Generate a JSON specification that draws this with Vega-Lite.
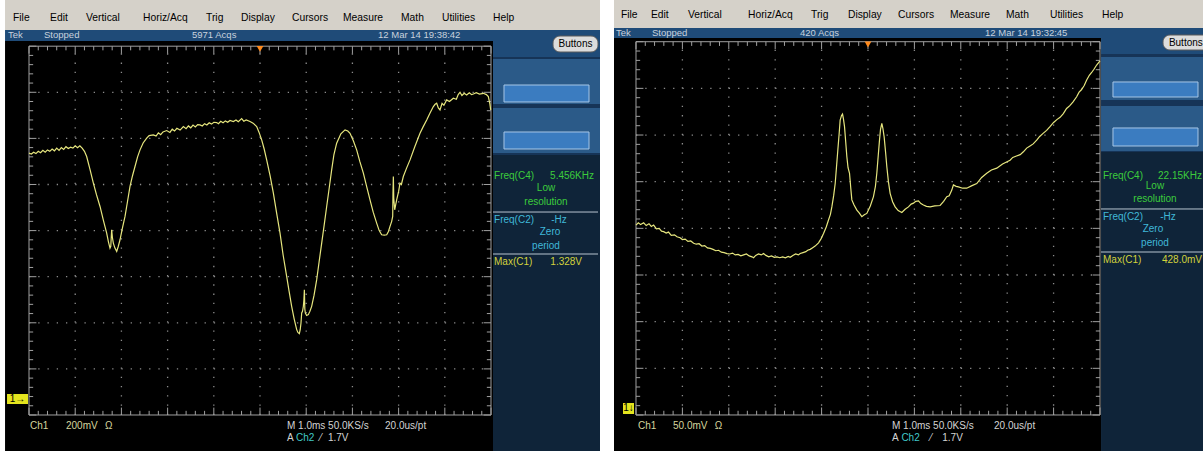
{
"$schema": "https://vega.github.io/schema/vega-lite/v6.json",
"background": "white",
"padding": 0,
"spacing": 14,
"bounds": "flush",
"config": {"view": {"stroke": null}},
"datasets": {
"gridV": [{"x":1,"y":0,"y2":8},{"x":2,"y":0,"y2":8},{"x":3,"y":0,"y2":8},{"x":4,"y":0,"y2":8},{"x":5,"y":0,"y2":8},{"x":6,"y":0,"y2":8},{"x":7,"y":0,"y2":8},{"x":8,"y":0,"y2":8},{"x":9,"y":0,"y2":8}],
"gridH": [{"y":1,"x":0,"x2":10},{"y":2,"x":0,"x2":10},{"y":3,"x":0,"x2":10},{"y":4,"x":0,"x2":10},{"y":5,"x":0,"x2":10},{"y":6,"x":0,"x2":10},{"y":7,"x":0,"x2":10}],
"frame": [{"x":0,"x2":10,"y":0,"y2":8}],
"tickV": [
{"x":0,"y":8,"y2":7.84},{"x":0.2,"y":8,"y2":7.91},{"x":0.4,"y":8,"y2":7.91},{"x":0.6,"y":8,"y2":7.91},{"x":0.8,"y":8,"y2":7.91},
{"x":1,"y":8,"y2":7.84},{"x":1.2,"y":8,"y2":7.91},{"x":1.4,"y":8,"y2":7.91},{"x":1.6,"y":8,"y2":7.91},{"x":1.8,"y":8,"y2":7.91},
{"x":2,"y":8,"y2":7.84},{"x":2.2,"y":8,"y2":7.91},{"x":2.4,"y":8,"y2":7.91},{"x":2.6,"y":8,"y2":7.91},{"x":2.8,"y":8,"y2":7.91},
{"x":3,"y":8,"y2":7.84},{"x":3.2,"y":8,"y2":7.91},{"x":3.4,"y":8,"y2":7.91},{"x":3.6,"y":8,"y2":7.91},{"x":3.8,"y":8,"y2":7.91},
{"x":4,"y":8,"y2":7.84},{"x":4.2,"y":8,"y2":7.91},{"x":4.4,"y":8,"y2":7.91},{"x":4.6,"y":8,"y2":7.91},{"x":4.8,"y":8,"y2":7.91},
{"x":5,"y":8,"y2":7.84},{"x":5.2,"y":8,"y2":7.91},{"x":5.4,"y":8,"y2":7.91},{"x":5.6,"y":8,"y2":7.91},{"x":5.8,"y":8,"y2":7.91},
{"x":6,"y":8,"y2":7.84},{"x":6.2,"y":8,"y2":7.91},{"x":6.4,"y":8,"y2":7.91},{"x":6.6,"y":8,"y2":7.91},{"x":6.8,"y":8,"y2":7.91},
{"x":7,"y":8,"y2":7.84},{"x":7.2,"y":8,"y2":7.91},{"x":7.4,"y":8,"y2":7.91},{"x":7.6,"y":8,"y2":7.91},{"x":7.8,"y":8,"y2":7.91},
{"x":8,"y":8,"y2":7.84},{"x":8.2,"y":8,"y2":7.91},{"x":8.4,"y":8,"y2":7.91},{"x":8.6,"y":8,"y2":7.91},{"x":8.8,"y":8,"y2":7.91},
{"x":9,"y":8,"y2":7.84},{"x":9.2,"y":8,"y2":7.91},{"x":9.4,"y":8,"y2":7.91},{"x":9.6,"y":8,"y2":7.91},{"x":9.8,"y":8,"y2":7.91},
{"x":10,"y":8,"y2":7.84},
{"x":0,"y":0,"y2":0.16},{"x":0.2,"y":0,"y2":0.09},{"x":0.4,"y":0,"y2":0.09},{"x":0.6,"y":0,"y2":0.09},{"x":0.8,"y":0,"y2":0.09},
{"x":1,"y":0,"y2":0.16},{"x":1.2,"y":0,"y2":0.09},{"x":1.4,"y":0,"y2":0.09},{"x":1.6,"y":0,"y2":0.09},{"x":1.8,"y":0,"y2":0.09},
{"x":2,"y":0,"y2":0.16},{"x":2.2,"y":0,"y2":0.09},{"x":2.4,"y":0,"y2":0.09},{"x":2.6,"y":0,"y2":0.09},{"x":2.8,"y":0,"y2":0.09},
{"x":3,"y":0,"y2":0.16},{"x":3.2,"y":0,"y2":0.09},{"x":3.4,"y":0,"y2":0.09},{"x":3.6,"y":0,"y2":0.09},{"x":3.8,"y":0,"y2":0.09},
{"x":4,"y":0,"y2":0.16},{"x":4.2,"y":0,"y2":0.09},{"x":4.4,"y":0,"y2":0.09},{"x":4.6,"y":0,"y2":0.09},{"x":4.8,"y":0,"y2":0.09},
{"x":5,"y":0,"y2":0.16},{"x":5.2,"y":0,"y2":0.09},{"x":5.4,"y":0,"y2":0.09},{"x":5.6,"y":0,"y2":0.09},{"x":5.8,"y":0,"y2":0.09},
{"x":6,"y":0,"y2":0.16},{"x":6.2,"y":0,"y2":0.09},{"x":6.4,"y":0,"y2":0.09},{"x":6.6,"y":0,"y2":0.09},{"x":6.8,"y":0,"y2":0.09},
{"x":7,"y":0,"y2":0.16},{"x":7.2,"y":0,"y2":0.09},{"x":7.4,"y":0,"y2":0.09},{"x":7.6,"y":0,"y2":0.09},{"x":7.8,"y":0,"y2":0.09},
{"x":8,"y":0,"y2":0.16},{"x":8.2,"y":0,"y2":0.09},{"x":8.4,"y":0,"y2":0.09},{"x":8.6,"y":0,"y2":0.09},{"x":8.8,"y":0,"y2":0.09},
{"x":9,"y":0,"y2":0.16},{"x":9.2,"y":0,"y2":0.09},{"x":9.4,"y":0,"y2":0.09},{"x":9.6,"y":0,"y2":0.09},{"x":9.8,"y":0,"y2":0.09},
{"x":10,"y":0,"y2":0.16}],
"tickH": [
{"y":0,"x":0,"x2":0.16},{"y":0.2,"x":0,"x2":0.09},{"y":0.4,"x":0,"x2":0.09},{"y":0.6,"x":0,"x2":0.09},{"y":0.8,"x":0,"x2":0.09},
{"y":1,"x":0,"x2":0.16},{"y":1.2,"x":0,"x2":0.09},{"y":1.4,"x":0,"x2":0.09},{"y":1.6,"x":0,"x2":0.09},{"y":1.8,"x":0,"x2":0.09},
{"y":2,"x":0,"x2":0.16},{"y":2.2,"x":0,"x2":0.09},{"y":2.4,"x":0,"x2":0.09},{"y":2.6,"x":0,"x2":0.09},{"y":2.8,"x":0,"x2":0.09},
{"y":3,"x":0,"x2":0.16},{"y":3.2,"x":0,"x2":0.09},{"y":3.4,"x":0,"x2":0.09},{"y":3.6,"x":0,"x2":0.09},{"y":3.8,"x":0,"x2":0.09},
{"y":4,"x":0,"x2":0.16},{"y":4.2,"x":0,"x2":0.09},{"y":4.4,"x":0,"x2":0.09},{"y":4.6,"x":0,"x2":0.09},{"y":4.8,"x":0,"x2":0.09},
{"y":5,"x":0,"x2":0.16},{"y":5.2,"x":0,"x2":0.09},{"y":5.4,"x":0,"x2":0.09},{"y":5.6,"x":0,"x2":0.09},{"y":5.8,"x":0,"x2":0.09},
{"y":6,"x":0,"x2":0.16},{"y":6.2,"x":0,"x2":0.09},{"y":6.4,"x":0,"x2":0.09},{"y":6.6,"x":0,"x2":0.09},{"y":6.8,"x":0,"x2":0.09},
{"y":7,"x":0,"x2":0.16},{"y":7.2,"x":0,"x2":0.09},{"y":7.4,"x":0,"x2":0.09},{"y":7.6,"x":0,"x2":0.09},{"y":7.8,"x":0,"x2":0.09},
{"y":8,"x":0,"x2":0.16},
{"y":0,"x":10,"x2":9.84},{"y":0.2,"x":10,"x2":9.91},{"y":0.4,"x":10,"x2":9.91},{"y":0.6,"x":10,"x2":9.91},{"y":0.8,"x":10,"x2":9.91},
{"y":1,"x":10,"x2":9.84},{"y":1.2,"x":10,"x2":9.91},{"y":1.4,"x":10,"x2":9.91},{"y":1.6,"x":10,"x2":9.91},{"y":1.8,"x":10,"x2":9.91},
{"y":2,"x":10,"x2":9.84},{"y":2.2,"x":10,"x2":9.91},{"y":2.4,"x":10,"x2":9.91},{"y":2.6,"x":10,"x2":9.91},{"y":2.8,"x":10,"x2":9.91},
{"y":3,"x":10,"x2":9.84},{"y":3.2,"x":10,"x2":9.91},{"y":3.4,"x":10,"x2":9.91},{"y":3.6,"x":10,"x2":9.91},{"y":3.8,"x":10,"x2":9.91},
{"y":4,"x":10,"x2":9.84},{"y":4.2,"x":10,"x2":9.91},{"y":4.4,"x":10,"x2":9.91},{"y":4.6,"x":10,"x2":9.91},{"y":4.8,"x":10,"x2":9.91},
{"y":5,"x":10,"x2":9.84},{"y":5.2,"x":10,"x2":9.91},{"y":5.4,"x":10,"x2":9.91},{"y":5.6,"x":10,"x2":9.91},{"y":5.8,"x":10,"x2":9.91},
{"y":6,"x":10,"x2":9.84},{"y":6.2,"x":10,"x2":9.91},{"y":6.4,"x":10,"x2":9.91},{"y":6.6,"x":10,"x2":9.91},{"y":6.8,"x":10,"x2":9.91},
{"y":7,"x":10,"x2":9.84},{"y":7.2,"x":10,"x2":9.91},{"y":7.4,"x":10,"x2":9.91},{"y":7.6,"x":10,"x2":9.91},{"y":7.8,"x":10,"x2":9.91},
{"y":8,"x":10,"x2":9.84}],
"trig": [{"x":5,"y":7.94}],
"L_rects": [
{"part":"menu","x":-0.519,"x2":12.359,"y":8.351,"y2":9.002},
{"part":"status","x":-0.519,"x2":12.359,"y":8.113,"y2":8.351},
{"part":"screen","x":-0.519,"x2":10.043,"y":-0.781,"y2":8.113},
{"part":"status","x":10.043,"x2":12.359,"y":7.766,"y2":8.113},
{"part":"sidemid","x":10.043,"x2":12.359,"y":5.64,"y2":7.766},
{"part":"box","x":10.043,"x2":12.359,"y":6.746,"y2":7.722},
{"part":"box","x":10.043,"x2":12.359,"y":5.683,"y2":6.659},
{"part":"sidelow","x":10.043,"x2":12.359,"y":-0.781,"y2":5.64}],
"L_inner": [{"x":10.281,"x2":12.121,"y":6.79,"y2":7.158},{"x":10.281,"x2":12.121,"y":5.77,"y2":6.139}],
"L_btn": [{"x":11.342,"x2":12.316,"y":7.874,"y2":8.221}],
"L_gnd": [{"x":-0.476,"x2":-0.022,"y":0.239,"y2":0.456}],
"L_sep": [{"x":10.043,"x2":12.316,"y":4.403},{"x":10.043,"x2":12.316,"y":3.492}],
"L_menu": [
{"label":"File","x":-0.346,"y":8.62},{"label":"Edit","x":0.455,"y":8.62},{"label":"Vertical","x":1.234,"y":8.62},{"label":"Horiz/Acq","x":2.468,"y":8.62},{"label":"Trig","x":3.831,"y":8.62},{"label":"Display","x":4.589,"y":8.62},{"label":"Cursors","x":5.693,"y":8.62},{"label":"Measure","x":6.797,"y":8.62},{"label":"Math","x":8.052,"y":8.62},{"label":"Utilities","x":8.939,"y":8.62},{"label":"Help","x":10.043,"y":8.62}],
"L_status": [
{"label":"Tek","x":-0.455,"y":8.232},
{"label":"Stopped","x":0.325,"y":8.232},
{"label":"5971 Acqs","x":3.528,"y":8.232},
{"label":"12 Mar 14 19:38:42","x":7.554,"y":8.232}],
"L_tl": [
{"label":"Freq(C4)","x":10.065,"y":5.184,"role":"green"},
{"label":"Freq(C2)","x":10.065,"y":4.23,"role":"cyan"},
{"label":"Max(C1)","x":10.065,"y":3.319,"role":"yellow"},
{"label":"Ch1","x":0.022,"y":-0.239,"role":"ch1"},
{"label":"200mV","x":0.8,"y":-0.239,"role":"ch1"},
{"label":"Ω","x":1.645,"y":-0.239,"role":"ch1"},
{"label":"M 1.0ms 50.0KS/s","x":5.584,"y":-0.239,"role":"grey"},
{"label":"20.0us/pt","x":7.706,"y":-0.239,"role":"grey"},
{"label":"A","x":5.584,"y":-0.499,"role":"grey"},
{"label":"Ch2","x":5.78,"y":-0.499,"role":"ch2"},
{"label":"⁄","x":6.3,"y":-0.499,"role":"grey"},
{"label":"1.7V","x":6.47,"y":-0.499,"role":"grey"}],
"L_tr": [
{"label":"5.456KHz","x":12.229,"y":5.184,"role":"green"},
{"label":"1.328V","x":11.97,"y":3.319,"role":"yellow"}],
"L_tc": [
{"label":"Low","x":11.19,"y":4.924,"role":"green"},
{"label":"resolution","x":11.19,"y":4.62,"role":"green"},
{"label":"-Hz","x":11.472,"y":4.23,"role":"cyan"},
{"label":"Zero","x":11.277,"y":3.97,"role":"cyan"},
{"label":"period","x":11.19,"y":3.666,"role":"cyan"},
{"label":"Buttons","x":11.829,"y":8.048,"role":"black"},
{"label":"1→","x":-0.249,"y":0.347,"role":"black"}],
"trace1": [
{"x":0,"y":5.68},{"x":0.05,"y":5.66},{"x":0.1,"y":5.7},{"x":0.15,"y":5.67},{"x":0.2,"y":5.72},{"x":0.25,"y":5.69},{"x":0.3,"y":5.74},{"x":0.35,"y":5.7},{"x":0.4,"y":5.75},{"x":0.45,"y":5.72},{"x":0.5,"y":5.77},{"x":0.55,"y":5.73},{"x":0.6,"y":5.79},{"x":0.65,"y":5.74},{"x":0.7,"y":5.8},{"x":0.75,"y":5.76},{"x":0.8,"y":5.82},{"x":0.85,"y":5.78},{"x":0.9,"y":5.81},{"x":0.95,"y":5.79},{"x":1.0,"y":5.84},{"x":1.05,"y":5.8},{"x":1.1,"y":5.84},{"x":1.15,"y":5.79},{"x":1.2,"y":5.72},{"x":1.248,"y":5.606},{"x":1.32,"y":5.33},{"x":1.393,"y":5.029},{"x":1.46,"y":4.78},{"x":1.537,"y":4.523},{"x":1.61,"y":4.22},{"x":1.681,"y":3.946},{"x":1.72,"y":3.75},{"x":1.753,"y":3.621},{"x":1.77,"y":3.66},{"x":1.789,"y":4.018},{"x":1.805,"y":3.85},{"x":1.825,"y":3.729},{"x":1.86,"y":3.62},{"x":1.898,"y":3.549},{"x":1.93,"y":3.65},{"x":1.97,"y":3.801},{"x":2.02,"y":4.05},{"x":2.078,"y":4.307},{"x":2.13,"y":4.62},{"x":2.186,"y":4.957},{"x":2.24,"y":5.19},{"x":2.294,"y":5.39},{"x":2.35,"y":5.6},{"x":2.403,"y":5.751},{"x":2.47,"y":5.9},{"x":2.547,"y":6.004},{"x":2.6,"y":6.06},{"x":2.691,"y":6.076},{"x":2.75,"y":6.05},{"x":2.8,"y":6.12},{"x":2.85,"y":6.08},{"x":2.9,"y":6.14},{"x":2.98,"y":6.17},{"x":3.05,"y":6.13},{"x":3.1,"y":6.2},{"x":3.15,"y":6.16},{"x":3.2,"y":6.22},{"x":3.27,"y":6.18},{"x":3.341,"y":6.256},{"x":3.4,"y":6.21},{"x":3.45,"y":6.27},{"x":3.5,"y":6.23},{"x":3.55,"y":6.29},{"x":3.6,"y":6.25},{"x":3.65,"y":6.3},{"x":3.701,"y":6.292},{"x":3.75,"y":6.27},{"x":3.8,"y":6.32},{"x":3.85,"y":6.29},{"x":3.9,"y":6.34},{"x":3.95,"y":6.31},{"x":4.0,"y":6.35},{"x":4.062,"y":6.343},{"x":4.1,"y":6.32},{"x":4.15,"y":6.37},{"x":4.2,"y":6.34},{"x":4.25,"y":6.38},{"x":4.3,"y":6.35},{"x":4.35,"y":6.39},{"x":4.423,"y":6.365},{"x":4.48,"y":6.4},{"x":4.53,"y":6.36},{"x":4.603,"y":6.43},{"x":4.65,"y":6.37},{"x":4.7,"y":6.4},{"x":4.784,"y":6.365},{"x":4.85,"y":6.33},{"x":4.928,"y":6.256},{"x":4.98,"y":6.13},{"x":5.036,"y":5.968},{"x":5.09,"y":5.77},{"x":5.144,"y":5.534},{"x":5.22,"y":5.18},{"x":5.289,"y":4.812},{"x":5.36,"y":4.38},{"x":5.433,"y":3.946},{"x":5.5,"y":3.47},{"x":5.577,"y":3.007},{"x":5.63,"y":2.68},{"x":5.685,"y":2.357},{"x":5.74,"y":2.08},{"x":5.794,"y":1.852},{"x":5.82,"y":1.79},{"x":5.851,"y":1.765},{"x":5.87,"y":1.85},{"x":5.887,"y":1.996},{"x":5.902,"y":2.213},{"x":5.92,"y":2.25},{"x":5.938,"y":2.357},{"x":5.95,"y":2.5},{"x":5.96,"y":2.718},{"x":5.97,"y":2.3},{"x":5.981,"y":2.213},{"x":6.01,"y":2.16},{"x":6.046,"y":2.177},{"x":6.08,"y":2.25},{"x":6.118,"y":2.357},{"x":6.17,"y":2.6},{"x":6.227,"y":2.935},{"x":6.28,"y":3.33},{"x":6.335,"y":3.729},{"x":6.39,"y":4.13},{"x":6.443,"y":4.523},{"x":6.5,"y":4.94},{"x":6.551,"y":5.318},{"x":6.6,"y":5.65},{"x":6.659,"y":5.895},{"x":6.75,"y":6.1},{"x":6.84,"y":6.184},{"x":6.9,"y":6.16},{"x":6.948,"y":6.112},{"x":7.02,"y":5.95},{"x":7.092,"y":5.751},{"x":7.16,"y":5.5},{"x":7.237,"y":5.246},{"x":7.31,"y":4.95},{"x":7.381,"y":4.668},{"x":7.45,"y":4.4},{"x":7.525,"y":4.162},{"x":7.58,"y":4.0},{"x":7.633,"y":3.91},{"x":7.69,"y":3.9},{"x":7.742,"y":3.91},{"x":7.78,"y":3.98},{"x":7.814,"y":4.09},{"x":7.85,"y":4.2},{"x":7.872,"y":4.307},{"x":7.878,"y":4.8},{"x":7.886,"y":5.173},{"x":7.895,"y":4.7},{"x":7.915,"y":4.451},{"x":7.935,"y":4.55},{"x":7.958,"y":4.668},{"x":8.0,"y":4.85},{"x":8.03,"y":5.029},{"x":8.06,"y":5.0},{"x":8.102,"y":5.173},{"x":8.17,"y":5.35},{"x":8.247,"y":5.534},{"x":8.35,"y":5.82},{"x":8.463,"y":6.112},{"x":8.53,"y":6.25},{"x":8.608,"y":6.401},{"x":8.68,"y":6.55},{"x":8.752,"y":6.69},{"x":8.79,"y":6.74},{"x":8.824,"y":6.762},{"x":8.86,"y":6.66},{"x":8.896,"y":6.617},{"x":8.94,"y":6.76},{"x":8.98,"y":6.72},{"x":9.04,"y":6.834},{"x":9.1,"y":6.8},{"x":9.185,"y":6.87},{"x":9.25,"y":6.85},{"x":9.29,"y":6.95},{"x":9.329,"y":7.0},{"x":9.37,"y":6.93},{"x":9.42,"y":6.98},{"x":9.473,"y":6.942},{"x":9.53,"y":6.99},{"x":9.58,"y":6.95},{"x":9.618,"y":6.964},{"x":9.68,"y":6.99},{"x":9.75,"y":6.96},{"x":9.834,"y":6.978},{"x":9.9,"y":6.95},{"x":9.942,"y":6.906},{"x":9.975,"y":6.75},{"x":9.993,"y":6.617}],
"R_rects": [
{"part":"menu","x":-0.474,"x2":12.22,"y":8.294,"y2":8.894},
{"part":"status","x":-0.474,"x2":12.22,"y":8.08,"y2":8.294},
{"part":"screen","x":-0.474,"x2":10.022,"y":-0.772,"y2":8.08},
{"part":"status","x":10.022,"x2":12.22,"y":7.737,"y2":8.08},
{"part":"sidemid","x":10.022,"x2":12.22,"y":5.636,"y2":7.737},
{"part":"box","x":10.022,"x2":12.22,"y":6.751,"y2":7.673},
{"part":"box","x":10.022,"x2":12.22,"y":5.658,"y2":6.622},
{"part":"sidelow","x":10.022,"x2":12.22,"y":-0.772,"y2":5.636}],
"R_inner": [{"x":10.28,"x2":12.112,"y":6.815,"y2":7.137},{"x":10.28,"x2":12.112,"y":5.765,"y2":6.151}],
"R_btn": [{"x":11.358,"x2":12.45,"y":7.822,"y2":8.144}],
"R_gnd": [{"x":-0.28,"x2":-0.043,"y":0.021,"y2":0.257}],
"R_sep": [{"x":10.022,"x2":12.22,"y":4.415},{"x":10.022,"x2":12.22,"y":3.493}],
"R_menu": [
{"label":"File","x":-0.323,"y":8.58},{"label":"Edit","x":0.323,"y":8.58},{"label":"Vertical","x":1.121,"y":8.58},{"label":"Horiz/Acq","x":2.414,"y":8.58},{"label":"Trig","x":3.772,"y":8.58},{"label":"Display","x":4.569,"y":8.58},{"label":"Cursors","x":5.647,"y":8.58},{"label":"Measure","x":6.767,"y":8.58},{"label":"Math","x":7.974,"y":8.58},{"label":"Utilities","x":8.922,"y":8.58},{"label":"Help","x":10.043,"y":8.58}],
"R_status": [
{"label":"Tek","x":-0.431,"y":8.187},
{"label":"Stopped","x":0.345,"y":8.187},
{"label":"420 Acqs","x":3.534,"y":8.187},
{"label":"12 Mar 14 19:32:45","x":7.522,"y":8.187}],
"R_tl": [
{"label":"Freq(C4)","x":10.065,"y":5.122,"role":"green"},
{"label":"Freq(C2)","x":10.065,"y":4.243,"role":"cyan"},
{"label":"Max(C1)","x":10.065,"y":3.322,"role":"yellow"},
{"label":"Ch1","x":0.043,"y":-0.236,"role":"ch1"},
{"label":"50.0mV","x":0.797,"y":-0.236,"role":"ch1"},
{"label":"Ω","x":1.7,"y":-0.236,"role":"ch1"},
{"label":"M 1.0ms 50.0KS/s","x":5.517,"y":-0.236,"role":"grey"},
{"label":"20.0us/pt","x":7.716,"y":-0.236,"role":"grey"},
{"label":"A","x":5.517,"y":-0.493,"role":"grey"},
{"label":"Ch2","x":5.72,"y":-0.493,"role":"ch2"},
{"label":"⁄","x":6.34,"y":-0.493,"role":"grey"},
{"label":"1.7V","x":6.6,"y":-0.493,"role":"grey"}],
"R_tr": [
{"label":"22.15KHz","x":12.198,"y":5.122,"role":"green"},
{"label":"428.0mV","x":12.198,"y":3.322,"role":"yellow"}],
"R_tc": [
{"label":"Low","x":11.185,"y":4.908,"role":"green"},
{"label":"resolution","x":11.185,"y":4.629,"role":"green"},
{"label":"-Hz","x":11.466,"y":4.243,"role":"cyan"},
{"label":"Zero","x":11.142,"y":3.986,"role":"cyan"},
{"label":"period","x":11.185,"y":3.686,"role":"cyan"},
{"label":"Buttons","x":11.85,"y":7.983,"role":"black"},
{"label":"1↓","x":-0.16,"y":0.14,"role":"black"}],
"trace2": [
{"x":0,"y":4.07},{"x":0.05,"y":4.12},{"x":0.1,"y":4.08},{"x":0.165,"y":4.12},{"x":0.22,"y":4.06},{"x":0.28,"y":4.1},{"x":0.33,"y":4.04},{"x":0.38,"y":4.07},{"x":0.44,"y":3.99},{"x":0.5,"y":4.0},{"x":0.55,"y":3.94},{"x":0.596,"y":3.93},{"x":0.65,"y":3.9},{"x":0.7,"y":3.92},{"x":0.76,"y":3.85},{"x":0.83,"y":3.86},{"x":0.883,"y":3.82},{"x":0.95,"y":3.8},{"x":1.0,"y":3.76},{"x":1.06,"y":3.77},{"x":1.12,"y":3.72},{"x":1.18,"y":3.73},{"x":1.242,"y":3.68},{"x":1.3,"y":3.66},{"x":1.36,"y":3.67},{"x":1.42,"y":3.62},{"x":1.48,"y":3.63},{"x":1.54,"y":3.58},{"x":1.601,"y":3.57},{"x":1.66,"y":3.55},{"x":1.72,"y":3.52},{"x":1.78,"y":3.53},{"x":1.84,"y":3.49},{"x":1.9,"y":3.48},{"x":1.96,"y":3.46},{"x":2.02,"y":3.45},{"x":2.08,"y":3.47},{"x":2.14,"y":3.43},{"x":2.2,"y":3.44},{"x":2.26,"y":3.41},{"x":2.319,"y":3.43},{"x":2.38,"y":3.45},{"x":2.44,"y":3.41},{"x":2.5,"y":3.39},{"x":2.534,"y":3.37},{"x":2.58,"y":3.42},{"x":2.64,"y":3.45},{"x":2.7,"y":3.43},{"x":2.749,"y":3.46},{"x":2.8,"y":3.42},{"x":2.86,"y":3.39},{"x":2.92,"y":3.41},{"x":2.98,"y":3.38},{"x":3.037,"y":3.39},{"x":3.1,"y":3.37},{"x":3.16,"y":3.39},{"x":3.22,"y":3.37},{"x":3.28,"y":3.4},{"x":3.324,"y":3.38},{"x":3.38,"y":3.42},{"x":3.44,"y":3.45},{"x":3.5,"y":3.43},{"x":3.539,"y":3.46},{"x":3.6,"y":3.48},{"x":3.66,"y":3.5},{"x":3.7,"y":3.53},{"x":3.754,"y":3.55},{"x":3.8,"y":3.58},{"x":3.86,"y":3.62},{"x":3.934,"y":3.69},{"x":3.99,"y":3.78},{"x":4.042,"y":3.89},{"x":4.1,"y":4.03},{"x":4.149,"y":4.18},{"x":4.19,"y":4.3},{"x":4.221,"y":4.46},{"x":4.26,"y":4.7},{"x":4.293,"y":4.96},{"x":4.32,"y":5.3},{"x":4.35,"y":5.68},{"x":4.38,"y":6.05},{"x":4.4,"y":6.32},{"x":4.43,"y":6.42},{"x":4.451,"y":6.45},{"x":4.47,"y":6.35},{"x":4.494,"y":6.18},{"x":4.52,"y":5.85},{"x":4.544,"y":5.54},{"x":4.57,"y":5.3},{"x":4.602,"y":5.18},{"x":4.63,"y":4.85},{"x":4.652,"y":4.61},{"x":4.7,"y":4.5},{"x":4.76,"y":4.39},{"x":4.81,"y":4.33},{"x":4.867,"y":4.25},{"x":4.92,"y":4.29},{"x":4.975,"y":4.32},{"x":5.05,"y":4.48},{"x":5.118,"y":4.68},{"x":5.16,"y":4.9},{"x":5.19,"y":5.18},{"x":5.22,"y":5.55},{"x":5.248,"y":5.89},{"x":5.27,"y":6.12},{"x":5.298,"y":6.25},{"x":5.32,"y":6.15},{"x":5.348,"y":5.96},{"x":5.38,"y":5.62},{"x":5.406,"y":5.32},{"x":5.44,"y":5.0},{"x":5.477,"y":4.75},{"x":5.53,"y":4.57},{"x":5.585,"y":4.46},{"x":5.65,"y":4.38},{"x":5.729,"y":4.34},{"x":5.8,"y":4.41},{"x":5.872,"y":4.46},{"x":5.93,"y":4.52},{"x":5.98,"y":4.54},{"x":6.03,"y":4.58},{"x":6.088,"y":4.59},{"x":6.14,"y":4.53},{"x":6.195,"y":4.5},{"x":6.26,"y":4.47},{"x":6.339,"y":4.46},{"x":6.44,"y":4.48},{"x":6.554,"y":4.49},{"x":6.63,"y":4.58},{"x":6.698,"y":4.68},{"x":6.75,"y":4.7},{"x":6.806,"y":4.82},{"x":6.841,"y":4.93},{"x":6.9,"y":4.9},{"x":6.949,"y":4.89},{"x":7.04,"y":4.86},{"x":7.128,"y":4.86},{"x":7.23,"y":4.91},{"x":7.344,"y":4.96},{"x":7.45,"y":5.09},{"x":7.559,"y":5.18},{"x":7.66,"y":5.25},{"x":7.775,"y":5.29},{"x":7.9,"y":5.38},{"x":8.062,"y":5.46},{"x":8.12,"y":5.52},{"x":8.2,"y":5.55},{"x":8.28,"y":5.58},{"x":8.349,"y":5.64},{"x":8.42,"y":5.72},{"x":8.5,"y":5.77},{"x":8.56,"y":5.81},{"x":8.636,"y":5.89},{"x":8.7,"y":5.97},{"x":8.78,"y":6.04},{"x":8.85,"y":6.1},{"x":8.923,"y":6.18},{"x":9.0,"y":6.27},{"x":9.07,"y":6.33},{"x":9.14,"y":6.38},{"x":9.21,"y":6.46},{"x":9.28,"y":6.57},{"x":9.35,"y":6.63},{"x":9.42,"y":6.71},{"x":9.497,"y":6.82},{"x":9.55,"y":6.92},{"x":9.6,"y":6.97},{"x":9.66,"y":7.06},{"x":9.713,"y":7.18},{"x":9.77,"y":7.28},{"x":9.82,"y":7.34},{"x":9.87,"y":7.41},{"x":9.928,"y":7.5},{"x":10.0,"y":7.59}]
},
"hconcat": [
{
"width": 600, "height": 451,
"encoding": {
"x": {"field": "x", "type": "quantitative", "axis": null, "scale": {"domain": [-0.628, 12.359], "nice": false, "zero": false}},
"y": {"field": "y", "type": "quantitative", "axis": null, "scale": {"domain": [-0.781, 9.002], "nice": false, "zero": false}}
},
"layer": [
{"data": {"name": "L_rects"}, "mark": {"type": "rect", "clip": true}, "encoding": {"x2": {"field": "x2"}, "y2": {"field": "y2"}, "color": {"field": "part", "type": "nominal", "legend": null, "scale": {"domain": ["menu","status","screen","sidemid","box","sidelow","black","green","cyan","yellow","grey","ch1","ch2"], "range": ["#d5d1c9","#1f4b78","#000000","#163457","#2b5a88","#0f2439","#000000","#3ccc3c","#40b8d8","#d2d23c","#d4d4d4","#d6d69e","#40c8c8"]}}}},
{"data": {"name": "L_inner"}, "mark": {"type": "rect", "fill": "#3b7cc0", "stroke": "#a6c6e6", "strokeWidth": 1}, "encoding": {"x2": {"field": "x2"}, "y2": {"field": "y2"}}},
{"data": {"name": "L_btn"}, "mark": {"type": "rect", "fill": "#dcdcdc", "stroke": "#5a5a5a", "strokeWidth": 1, "cornerRadius": 7, "clip": true}, "encoding": {"x2": {"field": "x2"}, "y2": {"field": "y2"}}},
{"data": {"name": "gridV"}, "mark": {"type": "rule", "color": "#8c8c8c", "strokeWidth": 1.3, "strokeDash": [1.3, 7.94]}, "encoding": {"y2": {"field": "y2"}}},
{"data": {"name": "gridH"}, "mark": {"type": "rule", "color": "#8c8c8c", "strokeWidth": 1.3, "strokeDash": [1.3, 7.94]}, "encoding": {"x2": {"field": "x2"}}},
{"data": {"name": "tickV"}, "mark": {"type": "rule", "color": "#a0a0a0", "strokeWidth": 1}, "encoding": {"y2": {"field": "y2"}}},
{"data": {"name": "tickH"}, "mark": {"type": "rule", "color": "#a0a0a0", "strokeWidth": 1}, "encoding": {"x2": {"field": "x2"}}},
{"data": {"name": "frame"}, "mark": {"type": "rect", "filled": false, "color": "#a0a0a0", "strokeWidth": 1}, "encoding": {"x2": {"field": "x2"}, "y2": {"field": "y2"}}},
{"data": {"name": "trace1"}, "mark": {"type": "line", "color": "#e6e67e", "strokeWidth": 1.2, "clip": true}, "encoding": {}},
{"data": {"name": "trig"}, "mark": {"type": "point", "shape": "triangle-down", "filled": true, "color": "#ff8a1c", "size": 45, "opacity": 1}, "encoding": {}},
{"data": {"name": "L_gnd"}, "mark": {"type": "rect", "fill": "#e4e41e"}, "encoding": {"x2": {"field": "x2"}, "y2": {"field": "y2"}}},
{"data": {"name": "L_sep"}, "mark": {"type": "rule", "color": "#b8c4d0", "strokeWidth": 1}, "encoding": {"x2": {"field": "x2"}}},
{"data": {"name": "L_menu"}, "mark": {"type": "text", "align": "left", "baseline": "middle", "font": "Liberation Sans", "fontSize": 10.3, "color": "#000000"}, "encoding": {"text": {"field": "label"}}},
{"data": {"name": "L_status"}, "mark": {"type": "text", "align": "left", "baseline": "middle", "font": "Liberation Sans", "fontSize": 9.5, "color": "#c8d2dd"}, "encoding": {"text": {"field": "label"}}},
{"data": {"name": "L_tl"}, "mark": {"type": "text", "align": "left", "baseline": "middle", "font": "Liberation Sans", "fontSize": 10, "clip": true}, "encoding": {"text": {"field": "label"}, "color": {"field": "role", "type": "nominal", "legend": null, "scale": {"domain": ["menu","status","screen","sidemid","box","sidelow","black","green","cyan","yellow","grey","ch1","ch2"], "range": ["#d5d1c9","#1f4b78","#000000","#163457","#2b5a88","#0f2439","#000000","#3ccc3c","#40b8d8","#d2d23c","#d4d4d4","#d6d69e","#40c8c8"]}}}},
{"data": {"name": "L_tr"}, "mark": {"type": "text", "align": "right", "baseline": "middle", "font": "Liberation Sans", "fontSize": 10, "clip": true}, "encoding": {"text": {"field": "label"}, "color": {"field": "role", "type": "nominal", "legend": null, "scale": {"domain": ["menu","status","screen","sidemid","box","sidelow","black","green","cyan","yellow","grey","ch1","ch2"], "range": ["#d5d1c9","#1f4b78","#000000","#163457","#2b5a88","#0f2439","#000000","#3ccc3c","#40b8d8","#d2d23c","#d4d4d4","#d6d69e","#40c8c8"]}}}},
{"data": {"name": "L_tc"}, "mark": {"type": "text", "align": "center", "baseline": "middle", "font": "Liberation Sans", "fontSize": 10, "clip": true}, "encoding": {"text": {"field": "label"}, "color": {"field": "role", "type": "nominal", "legend": null, "scale": {"domain": ["menu","status","screen","sidemid","box","sidelow","black","green","cyan","yellow","grey","ch1","ch2"], "range": ["#d5d1c9","#1f4b78","#000000","#163457","#2b5a88","#0f2439","#000000","#3ccc3c","#40b8d8","#d2d23c","#d4d4d4","#d6d69e","#40c8c8"]}}}}
]
},
{
"width": 589, "height": 451,
"encoding": {
"x": {"field": "x", "type": "quantitative", "axis": null, "scale": {"domain": [-0.474, 12.22], "nice": false, "zero": false}},
"y": {"field": "y", "type": "quantitative", "axis": null, "scale": {"domain": [-0.772, 8.894], "nice": false, "zero": false}}
},
"layer": [
{"data": {"name": "R_rects"}, "mark": {"type": "rect", "clip": true}, "encoding": {"x2": {"field": "x2"}, "y2": {"field": "y2"}, "color": {"field": "part", "type": "nominal", "legend": null, "scale": {"domain": ["menu","status","screen","sidemid","box","sidelow","black","green","cyan","yellow","grey","ch1","ch2"], "range": ["#d5d1c9","#1f4b78","#000000","#163457","#2b5a88","#0f2439","#000000","#3ccc3c","#40b8d8","#d2d23c","#d4d4d4","#d6d69e","#40c8c8"]}}}},
{"data": {"name": "R_inner"}, "mark": {"type": "rect", "fill": "#3b7cc0", "stroke": "#a6c6e6", "strokeWidth": 1}, "encoding": {"x2": {"field": "x2"}, "y2": {"field": "y2"}}},
{"data": {"name": "R_btn"}, "mark": {"type": "rect", "fill": "#dcdcdc", "stroke": "#5a5a5a", "strokeWidth": 1, "cornerRadius": 7, "clip": true}, "encoding": {"x2": {"field": "x2"}, "y2": {"field": "y2"}}},
{"data": {"name": "gridV"}, "mark": {"type": "rule", "color": "#8c8c8c", "strokeWidth": 1.3, "strokeDash": [1.3, 8.03]}, "encoding": {"y2": {"field": "y2"}}},
{"data": {"name": "gridH"}, "mark": {"type": "rule", "color": "#8c8c8c", "strokeWidth": 1.3, "strokeDash": [1.3, 7.98]}, "encoding": {"x2": {"field": "x2"}}},
{"data": {"name": "tickV"}, "mark": {"type": "rule", "color": "#a0a0a0", "strokeWidth": 1}, "encoding": {"y2": {"field": "y2"}}},
{"data": {"name": "tickH"}, "mark": {"type": "rule", "color": "#a0a0a0", "strokeWidth": 1}, "encoding": {"x2": {"field": "x2"}}},
{"data": {"name": "frame"}, "mark": {"type": "rect", "filled": false, "color": "#a0a0a0", "strokeWidth": 1}, "encoding": {"x2": {"field": "x2"}, "y2": {"field": "y2"}}},
{"data": {"name": "trace2"}, "mark": {"type": "line", "color": "#e6e67e", "strokeWidth": 1.2, "clip": true}, "encoding": {}},
{"data": {"name": "trig"}, "mark": {"type": "point", "shape": "triangle-down", "filled": true, "color": "#ff8a1c", "size": 45, "opacity": 1}, "encoding": {}},
{"data": {"name": "R_gnd"}, "mark": {"type": "rect", "fill": "#e4e41e"}, "encoding": {"x2": {"field": "x2"}, "y2": {"field": "y2"}}},
{"data": {"name": "R_sep"}, "mark": {"type": "rule", "color": "#b8c4d0", "strokeWidth": 1}, "encoding": {"x2": {"field": "x2"}}},
{"data": {"name": "R_menu"}, "mark": {"type": "text", "align": "left", "baseline": "middle", "font": "Liberation Sans", "fontSize": 10.3, "color": "#000000"}, "encoding": {"text": {"field": "label"}}},
{"data": {"name": "R_status"}, "mark": {"type": "text", "align": "left", "baseline": "middle", "font": "Liberation Sans", "fontSize": 9.5, "color": "#c8d2dd"}, "encoding": {"text": {"field": "label"}}},
{"data": {"name": "R_tl"}, "mark": {"type": "text", "align": "left", "baseline": "middle", "font": "Liberation Sans", "fontSize": 10, "clip": true}, "encoding": {"text": {"field": "label"}, "color": {"field": "role", "type": "nominal", "legend": null, "scale": {"domain": ["menu","status","screen","sidemid","box","sidelow","black","green","cyan","yellow","grey","ch1","ch2"], "range": ["#d5d1c9","#1f4b78","#000000","#163457","#2b5a88","#0f2439","#000000","#3ccc3c","#40b8d8","#d2d23c","#d4d4d4","#d6d69e","#40c8c8"]}}}},
{"data": {"name": "R_tr"}, "mark": {"type": "text", "align": "right", "baseline": "middle", "font": "Liberation Sans", "fontSize": 10, "clip": true}, "encoding": {"text": {"field": "label"}, "color": {"field": "role", "type": "nominal", "legend": null, "scale": {"domain": ["menu","status","screen","sidemid","box","sidelow","black","green","cyan","yellow","grey","ch1","ch2"], "range": ["#d5d1c9","#1f4b78","#000000","#163457","#2b5a88","#0f2439","#000000","#3ccc3c","#40b8d8","#d2d23c","#d4d4d4","#d6d69e","#40c8c8"]}}}},
{"data": {"name": "R_tc"}, "mark": {"type": "text", "align": "center", "baseline": "middle", "font": "Liberation Sans", "fontSize": 10, "clip": true}, "encoding": {"text": {"field": "label"}, "color": {"field": "role", "type": "nominal", "legend": null, "scale": {"domain": ["menu","status","screen","sidemid","box","sidelow","black","green","cyan","yellow","grey","ch1","ch2"], "range": ["#d5d1c9","#1f4b78","#000000","#163457","#2b5a88","#0f2439","#000000","#3ccc3c","#40b8d8","#d2d23c","#d4d4d4","#d6d69e","#40c8c8"]}}}}
]
}
]
}
